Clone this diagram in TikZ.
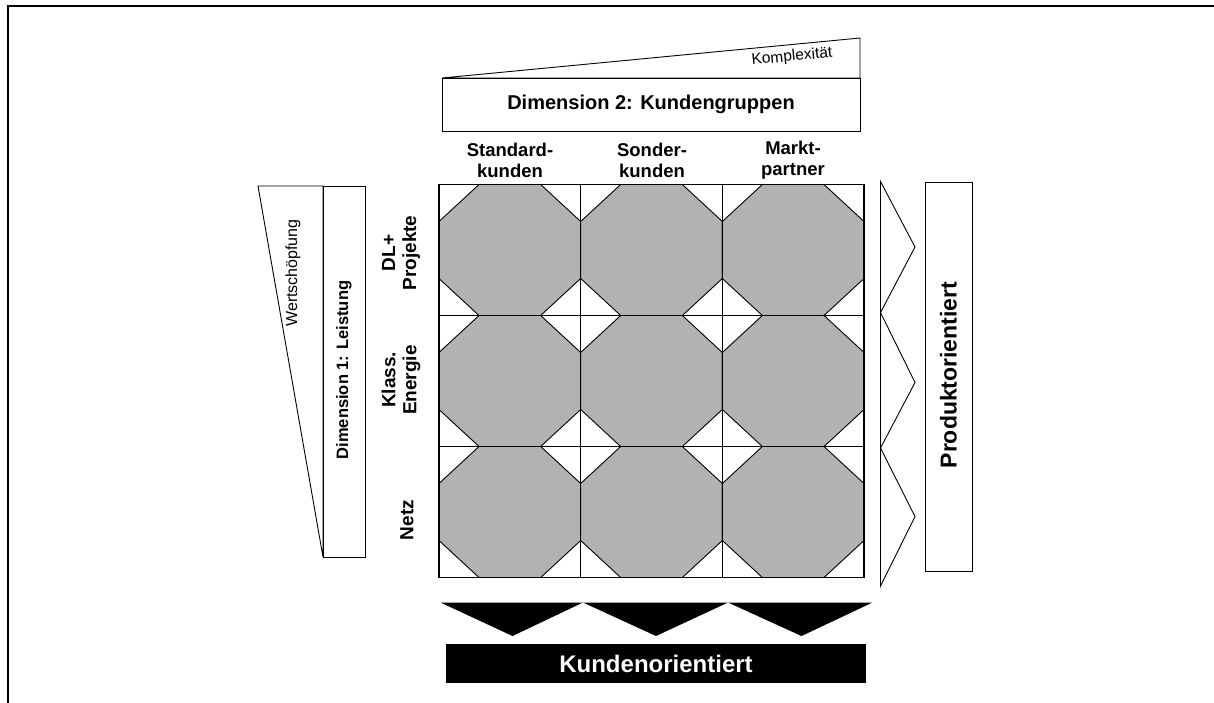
\documentclass[tikz,border=0pt]{standalone}
\usepackage{fontspec}
\setmainfont{Liberation Sans}
\begin{document}
\begin{tikzpicture}[x=1pt,y=-1pt,
  frame/.style={line width=1.8pt},
  gridline/.style={line width=1.4pt},
  octa/.style={fill=octgray,draw=black,line width=0.9pt},
  outl/.style={draw=black,line width=0.9pt,fill=white},
  boldlbl/.style={font=\bfseries\fontsize{18.5}{21}\selectfont,align=center,inner sep=0pt},
  rowlbl/.style={font=\bfseries\fontsize{19}{21}\selectfont,align=center,inner sep=0pt,rotate=90},
]
\definecolor{octgray}{RGB}{178,178,178}
\path[use as bounding box] (0,0) rectangle (1214,702);
% outer frame (only top and left visible)
\coordinate (fbl) at (8,703);
\coordinate (ftl) at (8,6);
\coordinate (ftr) at (1215,6);
\draw[frame] (fbl) -- (ftl) -- (ftr);

% top wedge and dimension 2 box
\coordinate (kl) at (442,78);
\coordinate (kt) at (860,38);
\coordinate (kr) at (860,78);
\draw[outl] (kl) -- (kt) -- (kr) -- cycle;
\node[font=\fontsize{15.5}{17}\selectfont,rotate=5.5,inner sep=0pt] (kompl) at (792,57) {Komplexität};
\draw[outl] (442,78) rectangle (860,131);
\node[font=\bfseries\fontsize{20}{22}\selectfont,inner sep=0pt] (dim2) at (651,104.5) {Dimension 2: Kundengruppen};

% column labels
\node[boldlbl] (c1) at (510,160) {Standard-\\kunden};
\node[boldlbl] (c2) at (652,160) {Sonder-\\kunden};
\node[boldlbl] (c3) at (793,160) {Markt-\\partner};

% left wedge and dimension 1 box
\coordinate (wl) at (258,186);
\coordinate (wr) at (323,186);
\coordinate (wb) at (323,557);
\draw[outl] (wl) -- (wr) -- (wb) -- cycle;
\node[font=\fontsize{16}{18}\selectfont,rotate=90,inner sep=0pt] (wert) at (293,273) {Wertschöpfung};
\draw[outl] (323,186) rectangle (365,557);
\node[font=\bfseries\fontsize{16.5}{19}\selectfont,rotate=90,inner sep=0pt] (dim1) at (344,370) {Dimension 1: Leistung};

% row labels
\node[rowlbl] (r1) at (401,253) {DL+\\Projekte};
\node[rowlbl] (r2) at (401,380) {Klass.\\Energie};
\node[rowlbl] (r3) at (407,520) {Netz};

% grid cells with octagons
\fill[white] (439,184.5) rectangle (864,577.5);
\foreach \i in {0,1,2}{
  \foreach \j in {0,1,2}{
    \pgfmathsetmacro{\xa}{439+141.67*\i}
    \pgfmathsetmacro{\ya}{184.5+131*\j}
    \pgfmathsetmacro{\xb}{\xa+141.67}
    \pgfmathsetmacro{\yb}{\ya+131}
    \draw[octa] (\xa+40,\ya) -- (\xb-40,\ya) -- (\xb,\ya+37) -- (\xb,\yb-37)
      -- (\xb-40,\yb) -- (\xa+40,\yb) -- (\xa,\yb-37) -- (\xa,\ya+37) -- cycle;
  }
}
\foreach \k in {1,2}{
  \draw[gridline] (439+141.67*\k,184.5) -- (439+141.67*\k,577.5);
  \draw[gridline] (439,184.5+131*\k) -- (864,184.5+131*\k);
}
\node[draw=black,line width=1.4pt,minimum width=425pt,minimum height=393pt,inner sep=0pt] (grid) at (651.5,381) {};

% right chevrons and product box
\coordinate (t1a) at (880.5,181.5);
\coordinate (t1b) at (915,247);
\coordinate (t1c) at (880.5,312.5);
\coordinate (t2b) at (915,382.5);
\coordinate (t2c) at (880.5,448);
\coordinate (t3b) at (915,516.5);
\coordinate (t3c) at (880.5,586);
\draw[outl] (t1a) -- (t1b) -- (t1c) -- cycle;
\draw[outl] (t1c) -- (t2b) -- (t2c) -- cycle;
\draw[outl] (t2c) -- (t3b) -- (t3c) -- cycle;
\node[draw=black,line width=0.9pt,minimum width=47pt,minimum height=389pt,inner sep=0pt] (prodbox) at (948.5,377) {};
\node[font=\bfseries\fontsize{23}{26}\selectfont,rotate=90,inner sep=0pt] (prod) at (948.5,375) {Produktorientiert};

% bottom black arrows and customer box
\coordinate (b1a) at (440.5,602.5);
\coordinate (b1b) at (583,602.5);
\coordinate (b1c) at (512.5,636);
\coordinate (b2b) at (728,602.5);
\coordinate (b2c) at (656,636);
\coordinate (b3b) at (872.5,602.5);
\coordinate (b3c) at (801.5,636);
\fill[black] (b1a) -- (b1b) -- (b1c) -- cycle;
\fill[black] (b1b) -- (b2b) -- (b2c) -- cycle;
\fill[black] (b2b) -- (b3b) -- (b3c) -- cycle;
\node[fill=black,minimum width=420pt,minimum height=39pt,inner sep=0pt] (kundbox) at (656,663.5) {};
\node[text=white,font=\bfseries\fontsize{24}{27}\selectfont,inner sep=0pt] (kund) at (kundbox.center) {Kundenorientiert};
\end{tikzpicture}
\end{document}
